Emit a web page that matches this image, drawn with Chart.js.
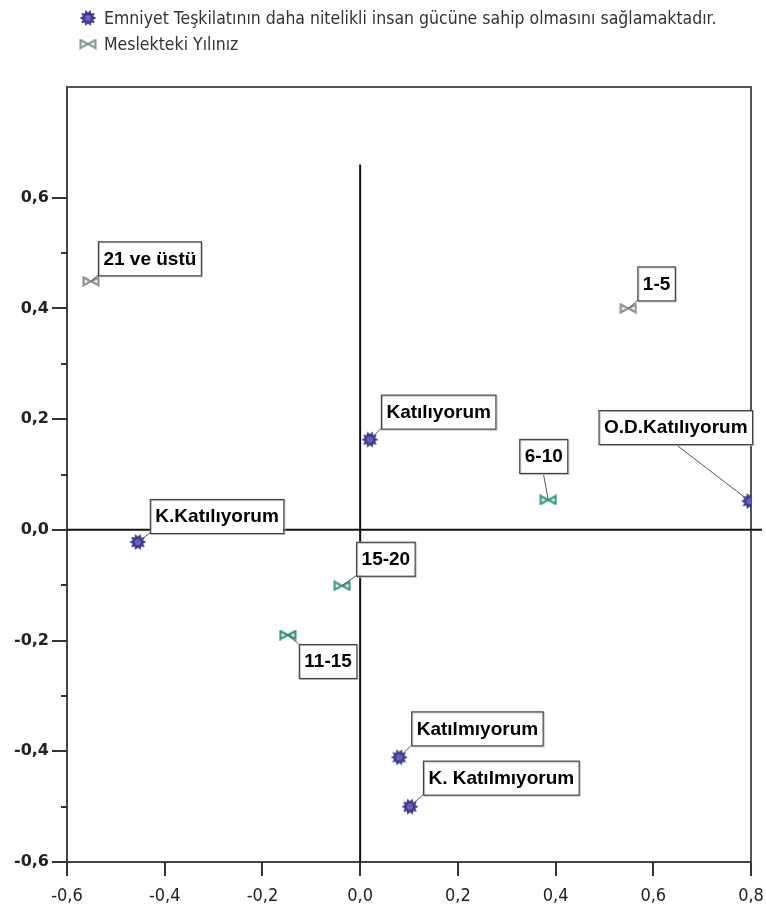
<!DOCTYPE html>
<html><head><meta charset="utf-8">
<script src="https://cdn.jsdelivr.net/npm/chart.js@4/dist/chart.umd.min.js"></script>
<style>html,body{margin:0;padding:0;background:#fff;}canvas{display:block}</style>
</head><body>
<canvas id="c" width="766" height="919"></canvas>
<script>
// ---- data ----
const seriesNames = ["Emniyet Teşkilatının daha nitelikli insan gücüne sahip olmasını sağlamaktadır.", "Meslekteki Yılınız"];
const agreeLabels = ["Katılıyorum", "O.D.Katılıyorum", "K.Katılıyorum", "Katılmıyorum", "K. Katılmıyorum"];
const agreeX = [0.020, 0.797, -0.455, 0.080, 0.102];
const agreeY = [0.163, 0.052, -0.022, -0.411, -0.500];
const yearLabels = ["21 ve üstü", "1-5", "6-10", "15-20", "11-15"];
const yearX = [-0.551, 0.549, 0.385, -0.037, -0.148];
const yearY = [0.449, 0.400, 0.054, -0.101, -0.190];
const xTickValues = [-0.6, -0.4, -0.2, 0, 0.2, 0.4, 0.6, 0.8];
const yTickValues = [-0.6, -0.4, -0.2, 0, 0.2, 0.4, 0.6];
const yMinorTickValues = [-0.5, -0.3, -0.1, 0.1, 0.3, 0.5];

// ---- styles ----
const NARROW = "'DejaVu Sans Condensed', 'Liberation Sans', sans-serif";
const yearColors = ['#8a8f8c', '#8a8f8c', '#2e9a6e', '#3a9a82', '#2f8f78'];
const agreeColor = '#3f3a93';

function starMarker(color) {
  const c = document.createElement('canvas'); c.width = 18; c.height = 18;
  const g = c.getContext('2d'); g.translate(9, 9);
  g.beginPath();
  for (let i = 0; i < 20; i++) {
    const r = i % 2 ? 5.5 : 8.5, a = i * Math.PI / 10;
    g.lineTo(r * Math.cos(a), r * Math.sin(a));
  }
  g.closePath(); g.fillStyle = color; g.fill();
  g.beginPath(); g.arc(0, 0, 3, 0, Math.PI * 2); g.fillStyle = '#6a64c0'; g.fill();
  return c;
}
function bowtieMarker(color) {
  const c = document.createElement('canvas'); c.width = 18; c.height = 11;
  const g = c.getContext('2d');
  g.lineWidth = 2; g.strokeStyle = color; g.fillStyle = '#e8f2ee';
  g.beginPath(); g.moveTo(1.5, 1.5); g.lineTo(9, 5.5); g.lineTo(1.5, 9.5); g.closePath(); g.fill(); g.stroke();
  g.beginPath(); g.moveTo(16.5, 1.5); g.lineTo(9, 5.5); g.lineTo(16.5, 9.5); g.closePath(); g.fill(); g.stroke();
  return c;
}
const starImg = starMarker(agreeColor);
const yearImgs = yearColors.map(bowtieMarker);
const legendImgs = [starImg, bowtieMarker('#7e9a8e')];

const fmt = v => (Math.abs(v) < 1e-9 ? 0 : v).toFixed(1).replace('.', ',');

// label box offsets (box top-left relative to point, px) and optional anchor fractions
const labelLayout = [
  [[11, -45], [-151, -91, 0.5, 1], [12, -43], [12, -46], [13, -46]],
  [[7, -40], [9, -42], [-29, -61, 0.5, 1], [14, -44], [11, 9]]
];
const pointTexts = [agreeLabels, yearLabels];

const framePlugin = {
  id: 'frame',
  beforeDatasetsDraw(chart) {
    const { ctx, chartArea: a, scales: { x, y } } = chart;
    ctx.save();
    ctx.strokeStyle = '#555'; ctx.lineWidth = 2;
    ctx.beginPath();
    ctx.moveTo(a.left, a.top); ctx.lineTo(a.right, a.top); ctx.lineTo(a.right, a.bottom);
    ctx.stroke();
    // reference lines
    ctx.strokeStyle = '#111'; ctx.lineWidth = 2;
    const x0 = x.getPixelForValue(0), y0 = y.getPixelForValue(0);
    ctx.beginPath(); ctx.moveTo(a.left, y0); ctx.lineTo(a.right + 11, y0); ctx.stroke();
    ctx.beginPath(); ctx.moveTo(x0, y.getPixelForValue(0.66)); ctx.lineTo(x0, a.bottom); ctx.stroke();
    // ticks
    ctx.strokeStyle = '#333'; ctx.lineWidth = 2;
    yTickValues.forEach(v => { const py = Math.round(y.getPixelForValue(v)); ctx.beginPath(); ctx.moveTo(a.left - 15, py); ctx.lineTo(a.left, py); ctx.stroke(); });
    yMinorTickValues.forEach(v => { const py = Math.round(y.getPixelForValue(v)); ctx.beginPath(); ctx.moveTo(a.left - 6, py); ctx.lineTo(a.left, py); ctx.stroke(); });
    xTickValues.forEach(v => { const px = Math.round(x.getPixelForValue(v)); ctx.beginPath(); ctx.moveTo(px, a.bottom); ctx.lineTo(px, a.bottom + 14); ctx.stroke(); });
    ctx.restore();
  }
};

const labelPlugin = {
  id: 'pointLabels',
  afterDatasetsDraw(chart) {
    const { ctx } = chart;
    ctx.save();
    ctx.font = "bold 19px 'Liberation Sans', Arial, sans-serif";
    ctx.textBaseline = 'middle';
    chart.data.datasets.forEach((ds, di) => {
      const meta = chart.getDatasetMeta(di);
      meta.data.forEach((pt, i) => {
        const text = pointTexts[di][i];
        const lay = labelLayout[di][i];
        const pad = 5, h = 34;
        const w = ctx.measureText(text).width + pad * 2;
        const bx = pt.x + lay[0], by = pt.y + lay[1];
        let ax, ay;
        if (lay.length > 2) { ax = bx + w * lay[2]; ay = by + h * lay[3]; }
        else { ax = Math.min(Math.max(pt.x, bx), bx + w); ay = Math.min(Math.max(pt.y, by), by + h); }
        ctx.strokeStyle = '#555'; ctx.lineWidth = 1;
        ctx.beginPath(); ctx.moveTo(ax, ay); ctx.lineTo(pt.x, pt.y); ctx.stroke();
        ctx.fillStyle = '#fff'; ctx.fillRect(bx, by, w, h);
        ctx.strokeStyle = '#bbb'; ctx.strokeRect(bx + 1.5, by + 1.5, w, h);
        ctx.strokeStyle = '#444'; ctx.lineWidth = 1.2; ctx.strokeRect(bx + 0.5, by + 0.5, w, h);
        ctx.fillStyle = '#000';
        ctx.fillText(text, bx + pad + 0.5, by + h / 2 + 1);
      });
    });
    ctx.restore();
  }
};

const legendPlugin = {
  id: 'topLegend',
  afterDraw(chart) {
    const { ctx } = chart;
    ctx.save();
    ctx.font = "17.5px " + NARROW;
    ctx.fillStyle = '#333';
    ctx.textBaseline = 'middle';
    const rows = [18, 44];
    chart.data.datasets.forEach((ds, i) => {
      const img = legendImgs[i];
      ctx.drawImage(img, 88 - img.width / 2, rows[i] - img.height / 2);
      ctx.fillText(ds.label, 104, rows[i] + 1);
    });
    ctx.restore();
  }
};

new Chart(document.getElementById('c'), {
  type: 'scatter',
  data: {
    datasets: [
      { label: seriesNames[0], data: agreeX.map((x, i) => ({ x, y: agreeY[i] })), pointStyle: starImg, pointRadius: 9, backgroundColor: agreeColor, borderColor: agreeColor },
      { label: seriesNames[1], data: yearX.map((x, i) => ({ x, y: yearY[i] })), pointStyle: yearImgs, pointRadius: 9, backgroundColor: yearColors, borderColor: yearColors }
    ]
  },
  options: {
    responsive: false, animation: false, events: [],
    layout: { padding: { top: 87, right: 15, left: 0, bottom: 0 } },
    plugins: { legend: { display: false }, tooltip: { enabled: false } },
    scales: {
      x: {
        type: 'linear', min: -0.6, max: 0.8, position: 'bottom',
        afterBuildTicks: s => { s.ticks = xTickValues.map(v => ({ value: v })); },
        afterFit: s => { s.height = 57; s.paddingLeft = 0; s.paddingRight = 0; },
        ticks: { callback: fmt, autoSkip: false, maxRotation: 0, padding: 24, color: '#222', font: { family: NARROW, size: 18 } },
        grid: { display: false, drawTicks: false },
        border: { display: true, color: '#444', width: 2 }
      },
      y: {
        type: 'linear', min: -0.6, max: 0.8, position: 'left',
        afterBuildTicks: s => { s.ticks = yTickValues.map(v => ({ value: v })); },
        afterFit: s => { s.width = 67; s.paddingTop = 0; s.paddingBottom = 0; },
        ticks: { callback: fmt, autoSkip: false, padding: 18, color: '#222', font: { family: "'DejaVu Sans', sans-serif", size: 16, weight: 'bold' } },
        grid: { display: false, drawTicks: false },
        border: { display: true, color: '#444', width: 2 }
      }
    }
  },
  plugins: [framePlugin, labelPlugin, legendPlugin]
});
</script>
</body></html>
